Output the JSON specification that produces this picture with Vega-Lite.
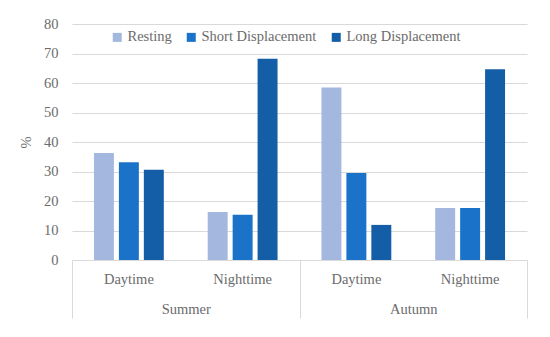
{
  "$schema": "https://vega.github.io/schema/vega-lite/v6.json",
  "width": 455,
  "height": 236,
  "autosize": "none",
  "padding": {"left": 72, "top": 24, "right": 23, "bottom": 77},
  "background": "white",
  "config": {
    "font": "Liberation Serif",
    "view": {"stroke": null},
    "axis": {"labelColor": "#6b6b6b", "titleColor": "#6b6b6b", "labelFontSize": 14.5, "labelFont": "Liberation Serif", "titleFont": "Liberation Serif"},
    "legend": {"labelColor": "#6b6b6b", "labelFontSize": 14.5, "labelFont": "Liberation Serif"}
  },
  "datasets": {
    "bars": [
      {"season": "Summer", "time": "Daytime", "group": "Summer|Daytime", "cat": "Resting", "value": 36.3},
      {"season": "Summer", "time": "Daytime", "group": "Summer|Daytime", "cat": "Short Displacement", "value": 33.1},
      {"season": "Summer", "time": "Daytime", "group": "Summer|Daytime", "cat": "Long Displacement", "value": 30.6},
      {"season": "Summer", "time": "Nighttime", "group": "Summer|Nighttime", "cat": "Resting", "value": 16.3},
      {"season": "Summer", "time": "Nighttime", "group": "Summer|Nighttime", "cat": "Short Displacement", "value": 15.3},
      {"season": "Summer", "time": "Nighttime", "group": "Summer|Nighttime", "cat": "Long Displacement", "value": 68.2},
      {"season": "Autumn", "time": "Daytime", "group": "Autumn|Daytime", "cat": "Resting", "value": 58.5},
      {"season": "Autumn", "time": "Daytime", "group": "Autumn|Daytime", "cat": "Short Displacement", "value": 29.5},
      {"season": "Autumn", "time": "Daytime", "group": "Autumn|Daytime", "cat": "Long Displacement", "value": 11.9},
      {"season": "Autumn", "time": "Nighttime", "group": "Autumn|Nighttime", "cat": "Resting", "value": 17.6},
      {"season": "Autumn", "time": "Nighttime", "group": "Autumn|Nighttime", "cat": "Short Displacement", "value": 17.6},
      {"season": "Autumn", "time": "Nighttime", "group": "Autumn|Nighttime", "cat": "Long Displacement", "value": 64.7}
    ],
    "seasons": [
      {"season": "Summer"},
      {"season": "Autumn"}
    ]
  },
  "layer": [
    {
      "data": {"name": "bars"},
      "mark": {"type": "bar"},
      "encoding": {
        "x": {
          "field": "group",
          "type": "nominal",
          "scale": {"domain": ["Summer|Daytime", "Summer|Nighttime", "Autumn|Daytime", "Autumn|Nighttime"], "paddingInner": 0, "paddingOuter": 0},
          "axis": {
            "title": null,
            "labelAngle": 0,
            "labelExpr": "split(datum.label, '|')[1]",
            "ticks": false,
            "domainColor": "#d9d9d9",
            "labelPadding": 12,
            "labelBaseline": "top"
          }
        },
        "xOffset": {
          "field": "cat",
          "type": "nominal",
          "scale": {"domain": ["Resting", "Short Displacement", "Long Displacement"], "paddingInner": 0.2, "paddingOuter": 0.88}
        },
        "y": {
          "field": "value",
          "type": "quantitative",
          "scale": {"domain": [0, 80], "nice": false},
          "axis": {
            "title": "%",
            "values": [0, 10, 20, 30, 40, 50, 60, 70, 80],
            "grid": true,
            "gridColor": "#d9d9d9",
            "domain": false,
            "ticks": false,
            "labelPadding": 14,
            "titlePadding": 10,
            "titleFontSize": 14.5,
            "titleFontWeight": "normal"
          }
        },
        "color": {
          "field": "cat",
          "type": "nominal",
          "scale": {"domain": ["Resting", "Short Displacement", "Long Displacement"], "range": ["#a4b8df", "#1a72c9", "#135ea7"]},
          "legend": {
            "title": null,
            "orient": "none",
            "direction": "horizontal",
            "legendX": 38,
            "legendY": 6,
            "symbolType": "square",
            "symbolSize": 81,
            "symbolStrokeWidth": 0,
            "labelOffset": 3,
            "columnPadding": 12
          }
        }
      }
    },
    {
      "data": {"name": "seasons"},
      "mark": {"type": "rule", "opacity": 0},
      "encoding": {
        "x": {
          "field": "season",
          "type": "nominal",
          "scale": {"domain": ["Summer", "Autumn"], "paddingInner": 0, "paddingOuter": 0},
          "axis": {
            "orient": "bottom",
            "title": null,
            "labelAngle": 0,
            "domain": false,
            "tickBand": "extent",
            "tickSize": 58,
            "tickColor": "#d9d9d9",
            "labelPadding": -16,
            "labelBaseline": "top"
          }
        }
      }
    }
  ],
  "resolve": {"scale": {"x": "independent"}, "axis": {"x": "independent"}}
}
